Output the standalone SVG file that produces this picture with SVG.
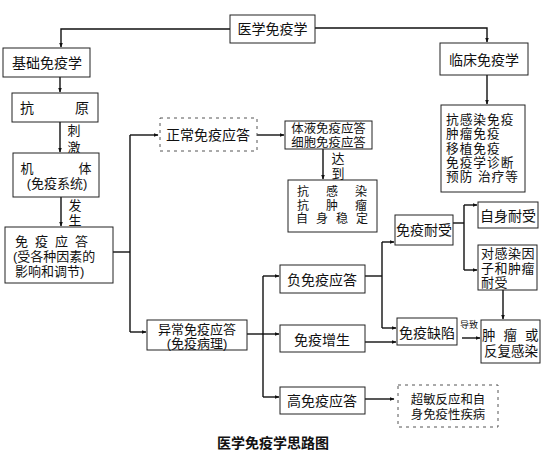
<svg xmlns="http://www.w3.org/2000/svg" width="554" height="462" viewBox="0 0 554 462">
<defs>
<marker id="ah" viewBox="0 0 10 10" refX="9" refY="5" markerWidth="5" markerHeight="5" orient="auto" markerUnits="userSpaceOnUse">
<path d="M0,1 L10,5 L0,9 z" fill="#111"/>
</marker>
<style>
text{font-family:"Liberation Sans","Noto Sans CJK SC","Noto Sans CJK JP",sans-serif;font-size:14px;fill:#111;dominant-baseline:central}
.c{text-anchor:middle}
.s{font-size:13px}
.m{font-size:12px}
.box{fill:#fff;stroke:#222;stroke-width:1}
.faint{fill:none;stroke:#555;stroke-width:1;stroke-dasharray:3 4}
.ln{fill:none;stroke:#111;stroke-width:1.4}
.ar{fill:none;stroke:#111;stroke-width:1.4;marker-end:url(#ah)}
.cap{font-weight:bold;font-size:14px}
</style>
</defs>
<rect width="554" height="462" fill="#fff"/>

<g id="connectors">
<path class="ar" d="M230,29 H61 V47"/>
<path class="ar" d="M315,28 H487 V42"/>
<path class="ar" d="M60,77 V92"/>
<path class="ar" d="M60,122 V152"/>
<path class="ar" d="M61,197 V226"/>
<path class="ln" d="M113,252 H130"/>
<path class="ln" d="M130,135 V332"/>
<path class="ar" d="M130,135 H158"/>
<path class="ar" d="M130,332 H146"/>
<path class="ar" d="M257,135 H284"/>
<path class="ar" d="M323,149 V179"/>
<path class="ar" d="M487,75 V104"/>
<path class="ln" d="M247,334 H263"/>
<path class="ln" d="M263,276 V397"/>
<path class="ar" d="M263,276 H279"/>
<path class="ar" d="M263,334 H279"/>
<path class="ar" d="M263,397 H279"/>
<path class="ln" d="M365,276 H382"/>
<path class="ln" d="M382,242 V328"/>
<path class="ar" d="M382,242 H394"/>
<path class="ar" d="M382,328 H396"/>
<path class="ar" d="M365,342 H396"/>
<path class="ln" d="M453,223 H464"/>
<path class="ln" d="M464,205 V270"/>
<path class="ar" d="M464,205 H477"/>
<path class="ar" d="M464,270 H477"/>
<path class="ar" d="M503,290 V319"/>
<path class="ar" d="M462,338 H480"/>
<path class="ar" d="M365,399 H394"/>
<text class="c s"><tspan x="74" y="130">刺</tspan><tspan x="74" y="147">激</tspan></text>
<text class="c s"><tspan x="75" y="205">发</tspan><tspan x="75" y="220">生</tspan></text>
<text class="c s"><tspan x="338" y="158">达</tspan><tspan x="338" y="173">到</tspan></text>
<text x="469" y="325" class="c" style="font-size:9px">导致</text>
</g>

<g id="n-top">
<rect class="box" x="230" y="15" width="85" height="28"/>
<text x="272.5" y="29" class="c">医学免疫学</text>
</g>
<g id="n-basic">
<rect class="box" x="3" y="48" width="87" height="29"/>
<text x="47" y="62.5" class="c">基础免疫学</text>
</g>
<g id="n-antigen">
<rect class="box" x="12" y="93" width="86" height="29"/>
<text><tspan x="20" y="108">抗</tspan><tspan x="75" y="108">原</tspan></text>
</g>
<g id="n-body">
<rect class="box" x="13" y="153" width="86" height="44"/>
<text class="c s"><tspan x="27" y="167.5">机</tspan><tspan x="85" y="167.5">体</tspan><tspan x="57" y="183">(免疫系统)</tspan></text>
</g>
<g id="n-response">
<rect class="box" x="5" y="227" width="108" height="56"/>
<text class="s"><tspan x="15" y="241" style="letter-spacing:7px">免疫应答</tspan><tspan x="13" y="256">(受各种因素的</tspan><tspan x="15" y="271">影响和调节)</tspan></text>
</g>
<g id="n-normal">
<rect class="faint" x="160" y="118" width="97" height="33"/>
<text x="208" y="135" class="c">正常免疫应答</text>
</g>
<g id="n-humoral">
<rect class="box" x="285" y="121" width="87" height="28"/>
<text class="c" style="font-size:12.4px"><tspan x="328.5" y="128.5">体液免疫应答</tspan><tspan x="328.5" y="142.5">细胞免疫应答</tspan></text>
</g>
<g id="n-achieve">
<rect class="box" x="288" y="180" width="89" height="52"/>
<text class="c m"><tspan x="303" y="192">抗</tspan><tspan x="332" y="192">感</tspan><tspan x="361" y="192">染</tspan><tspan x="303" y="205.5">抗</tspan><tspan x="332" y="205.5">肿</tspan><tspan x="361" y="205.5">瘤</tspan><tspan x="302" y="219">自</tspan><tspan x="322" y="219">身</tspan><tspan x="342" y="219">稳</tspan><tspan x="362" y="219">定</tspan></text>
</g>
<g id="n-clinical">
<rect class="box" x="440" y="43" width="88" height="32"/>
<text x="484" y="60" class="c">临床免疫学</text>
</g>
<g id="n-clinical-list">
<rect class="box" x="441" y="105" width="84" height="87"/>
<text style="font-size:12.7px;letter-spacing:1px"><tspan x="446" y="120">抗感染免疫</tspan><tspan x="446" y="134.25">肿瘤免疫</tspan><tspan x="446" y="148.5">移植免疫</tspan><tspan x="446" y="162.75">免疫学诊断</tspan><tspan x="446" y="177">预防 治疗等</tspan></text>
</g>
<g id="n-abnormal">
<rect class="box" x="147" y="320" width="100" height="30"/>
<text class="c s"><tspan x="197" y="328.5">异常免疫应答</tspan><tspan x="197" y="343">(免疫病理)</tspan></text>
</g>
<g id="n-negative">
<rect class="box" x="280" y="265" width="85" height="28"/>
<text x="322" y="280" class="c">负免疫应答</text>
</g>
<g id="n-prolif">
<rect class="box" x="280" y="325" width="85" height="27"/>
<text x="322" y="340" class="c">免疫增生</text>
</g>
<g id="n-high">
<rect class="box" x="280" y="387" width="85" height="27"/>
<text x="322" y="401" class="c">高免疫应答</text>
</g>
<g id="n-tolerance">
<rect class="box" x="395" y="215" width="58" height="30"/>
<text x="424" y="230" class="c">免疫耐受</text>
</g>
<g id="n-deficiency">
<rect class="box" x="397" y="318" width="60" height="27"/>
<text x="427" y="333" class="c">免疫缺陷</text>
</g>
<g id="n-self-tol">
<rect class="box" x="478" y="202" width="60" height="26"/>
<text x="508" y="216" class="c">自身耐受</text>
</g>
<g id="n-inf-tol">
<rect class="box" x="478" y="245" width="59" height="45"/>
<text class="s" style="letter-spacing:0.5px"><tspan x="481" y="253">对感染因</tspan><tspan x="481" y="267.5">子和肿瘤</tspan><tspan x="481" y="282">耐受</tspan></text>
</g>
<g id="n-tumor">
<rect class="box" x="481" y="320" width="59" height="43"/>
<text style="font-size:13.5px"><tspan x="482" y="334.5" style="letter-spacing:8px">肿瘤或</tspan><tspan x="484" y="350.5">反复感染</tspan></text>
</g>
<g id="n-hyper">
<rect class="faint" x="398" y="385" width="100" height="42"/>
<text class="c" style="font-size:12.4px"><tspan x="448" y="400">超敏反应和自</tspan><tspan x="448" y="414.5">身免疫性疾病</tspan></text>
</g>

<text x="273" y="443" class="c cap">医学免疫学思路图</text>
</svg>
